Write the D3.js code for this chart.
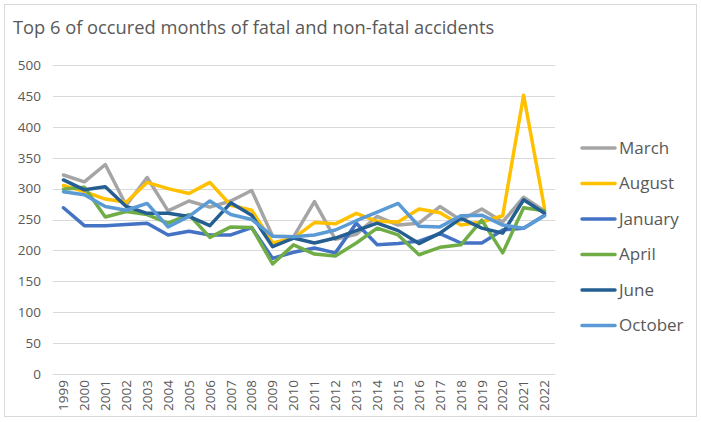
<!DOCTYPE html>
<html><head><meta charset="utf-8">
<script src="https://cdn.jsdelivr.net/npm/d3@7"></script>
<style>body{margin:0;background:#fff}svg{display:block}text{font-family:"Open Sans","Noto Sans",sans-serif}</style>
</head><body><svg id="c" width="701" height="422"></svg>
<script>
const years = ["1999","2000","2001","2002","2003","2004","2005","2006","2007","2008","2009","2010","2011","2012","2013","2014","2015","2016","2017","2018","2019","2020","2021","2022"];
const yTicks = [0,50,100,150,200,250,300,350,400,450,500];
const seriesNames = ["March","August","January","April","June","October"];
const seriesColors = ["#A5A5A5","#FFC000","#4472C4","#70AD47","#255E91","#5B9BD5"];
const march   = [322,311,339,273,318,264,280,270,280,297,223,222,279,218,226,255,241,244,271,249,267,246,286,264];
const august  = [305,295,283,278,310,300,292,310,273,265,212,220,245,243,260,247,246,267,261,241,246,256,451,268];
const january = [269,240,240,242,244,225,231,225,225,237,187,197,204,196,244,209,211,215,227,212,212,233,236,257];
const april   = [299,302,254,263,258,244,258,221,238,237,178,209,194,191,212,236,225,193,205,209,249,196,269,264];
const june    = [314,298,303,271,260,260,255,240,277,257,206,220,212,220,232,244,232,211,228,252,236,228,282,260];
const october = [295,290,271,265,276,238,255,280,258,250,223,222,225,233,248,262,276,239,238,256,257,241,236,256];
const seriesData = [march,august,january,april,june,october];

const svg = d3.select("#c");
svg.append("rect").attr("x",4.5).attr("y",4.5).attr("width",692).attr("height",412)
  .attr("fill","#fff").attr("stroke","#d9d9d9");

svg.append("text").attr("x",13).attr("y",34).attr("fill","#595959")
  .style("font-size","18.3px").text("Top 6 of occured months of fatal and non-fatal accidents");

const plotL=53, plotR=555, plotT=65, plotB=374;
const x = d3.scaleBand().domain(years).range([plotL,plotR]);
const y = d3.scaleLinear().domain([0,500]).range([plotB,plotT]);

const grid = svg.append("g").attr("class","grid");
grid.selectAll("line").data(yTicks).join("line")
  .attr("x1",plotL).attr("x2",plotR)
  .attr("y1",d=>Math.round(y(d))+0.5).attr("y2",d=>Math.round(y(d))+0.5)
  .attr("stroke","#d9d9d9").attr("stroke-width",1);

const yAxis = svg.append("g").attr("transform",`translate(${plotL},0)`)
  .call(d3.axisLeft(y).tickValues(yTicks).tickSize(0).tickPadding(12));
yAxis.select(".domain").remove();
yAxis.selectAll("text").attr("fill","#595959").style("font-size","13.5px");

const xAxis = svg.append("g").attr("transform",`translate(0,${plotB})`)
  .call(d3.axisBottom(x).tickSize(0));
xAxis.select(".domain").remove();
xAxis.selectAll("text").attr("fill","#595959").style("font-size","13.5px")
  .attr("text-anchor","end").attr("dx","-6").attr("dy","0.35em")
  .attr("transform","rotate(-90)").attr("x",0).attr("y",0);

const line = d3.line().x((d,i)=>x(years[i])+x.bandwidth()/2).y(d=>y(d));
svg.append("g").selectAll("path").data(seriesData).join("path")
  .attr("d",line).attr("fill","none")
  .attr("stroke",(d,i)=>seriesColors[i]).attr("stroke-width",3.5)
  .attr("stroke-linejoin","round").attr("stroke-linecap","round");

const leg = svg.append("g").selectAll("g").data(seriesNames).join("g")
  .attr("transform",(d,i)=>`translate(0,${148+i*35.5})`);
leg.append("line").attr("x1",582).attr("x2",615).attr("y1",0).attr("y2",0)
  .attr("stroke",(d,i)=>seriesColors[i]).attr("stroke-width",3.5).attr("stroke-linecap","round");
leg.append("text").attr("x",619).attr("y",0).attr("dy","0.35em")
  .attr("fill","#595959").style("font-size","17px").text(d=>d);
</script></body></html>
